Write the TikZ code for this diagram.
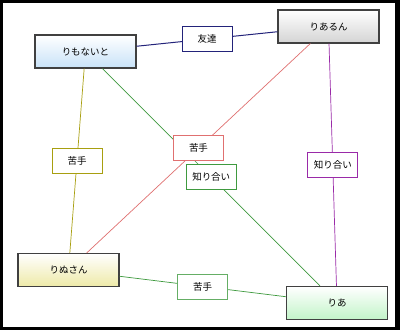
\documentclass[tikz,border=0pt]{standalone}
\usepackage{fontspec}
\setmainfont{Noto Sans CJK JP}
\usetikzlibrary{calc}

\definecolor{navyline}{HTML}{23237A}
\definecolor{oliveline}{HTML}{A89F10}
\definecolor{greenline}{HTML}{3F9A3F}
\definecolor{redline}{HTML}{E07070}
\definecolor{purpleline}{HTML}{9A2AA8}
\definecolor{bluefill}{HTML}{C8E2F8}
\definecolor{grayfill}{HTML}{D4D4D4}
\definecolor{yellowfill}{HTML}{EEEAA8}
\definecolor{greenfill}{HTML}{C2F4C8}

\tikzset{
  person/.style={draw=black!75, line width=1.1pt, minimum width=101pt, minimum height=33pt,
    top color=white, font=\fontsize{9.5}{11}\selectfont},
  relbox/.style={draw, fill=white, line width=0.9pt, minimum width=50pt, minimum height=25pt,
    font=\fontsize{9.5}{11}\selectfont},
  rel/.style={line width=0.7pt},
}

\begin{document}
\begin{tikzpicture}[x=1pt, y=-1pt]
    \useasboundingbox (0,0) rectangle (400,330);
    % outer frame
    \fill[black] (0,0) rectangle (400,330);
    \fill[white] (3,3) rectangle (395,327);

    % people
    \node[person, bottom color=bluefill] (rimo) at (85.5,51.5) {りもないと};
    \node[person, bottom color=grayfill] (rial) at (328.5,26.5) {りあるん};
    \node[person, bottom color=yellowfill] (rinu) at (68.5,270) {りぬさん};
    \node[person, bottom color=greenfill] (ria) at (337,303) {りあ};

    % relations
    \draw[rel, navyline, line width=1pt] (rimo) -- (rial);
    \draw[rel, oliveline] (rimo) -- (rinu);
    \draw[rel, greenline] (rimo) -- (ria);
    \draw[rel, redline] (rial) -- (rinu);
    \draw[rel, purpleline] (rial) -- (ria);
    \draw[rel, greenline] (rinu) -- (ria);

    % relation labels, on top of the lines
    \node[relbox, draw=navyline] (tomo) at ($(rimo)!.5!(rial)$) {友達};
    \node[relbox, draw=oliveline] (niga1) at ($(rimo)!.5!(rinu)$) {苦手};
    \node[relbox, draw=redline] (niga2) at ($(rial)!.5!(rinu)$) {苦手};
    \node[relbox, draw=greenline] (shiri1) at ($(rimo)!.5!(ria)$) {知り合い};
    \node[relbox, draw=purpleline] (shiri2) at ($(rial)!.5!(ria)$) {知り合い};
    \node[relbox, draw=greenline!80] (niga3) at ($(rinu)!.5!(ria)$) {苦手};
\end{tikzpicture}
\end{document}
